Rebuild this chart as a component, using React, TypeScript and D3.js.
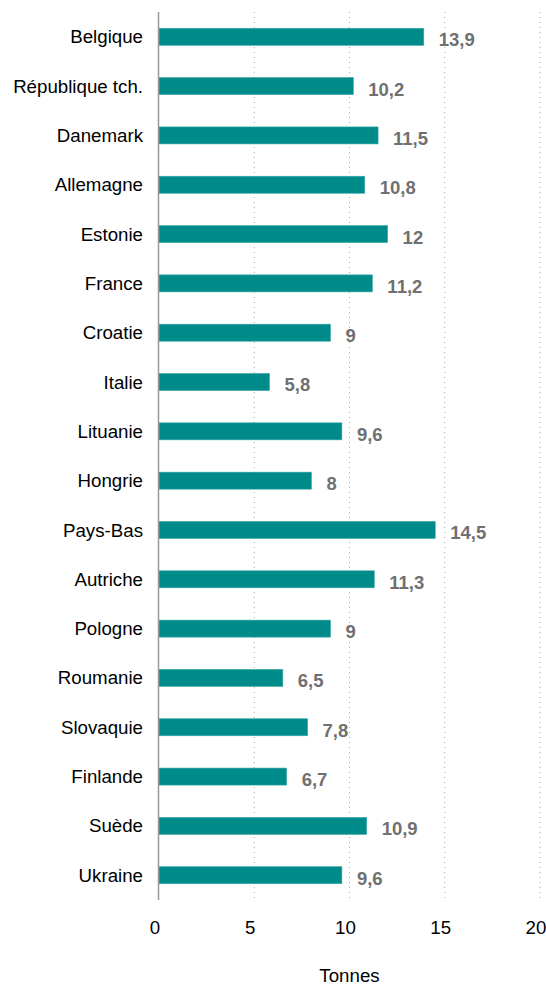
import React from "react";
import * as d3 from "d3";

const categories = [
  "Belgique", "République tch.", "Danemark", "Allemagne", "Estonie", "France",
  "Croatie", "Italie", "Lituanie", "Hongrie", "Pays-Bas", "Autriche", "Pologne",
  "Roumanie", "Slovaquie", "Finlande", "Suède", "Ukraine",
];
const values = [13.9, 10.2, 11.5, 10.8, 12, 11.2, 9, 5.8, 9.6, 8, 14.5, 11.3, 9, 6.5, 7.8, 6.7, 10.9, 9.6];
const ticks = [0, 5, 10, 15, 20];
const axisTitle = "Tonnes";

const W = 546, H = 985;
const left = 159, right = 540, top = 12, bottom = 900;
const font = "'Liberation Sans', Arial, sans-serif";
const fs = 18.7;

export default function App() {
  const x = d3.scaleLinear().domain([0, 20]).range([left, right]);
  const y = d3.scaleBand<string>().domain(categories).range([top, bottom]).paddingInner(0.655).paddingOuter(0.33);
  const fmt = (v: number) => String(v).replace(".", ",");
  return (
    <svg width={W} height={H} style={{ position: "absolute", left: 0, top: 0 }} fontFamily={font}>
      {ticks.slice(1).map((t) => (
        <line key={t} x1={x(t)} x2={x(t)} y1={top} y2={bottom} stroke="#aaa" strokeWidth={1} strokeDasharray="1,4" />
      ))}
      {categories.map((c, i) => (
        <g key={c}>
          <rect x={x(0)} y={y(c)!} width={x(values[i]) - x(0)} height={y.bandwidth()} fill="#008B8B" stroke="#3aa5a5" strokeWidth={0.6} />
          <text x={left - 16} y={y(c)! + y.bandwidth() / 2} dy="0.35em" textAnchor="end" fontSize={fs} fill="#000">{c}</text>
          <text x={x(values[i]) + 15} y={y(c)! + y.bandwidth() / 2 + 3} dy="0.35em" fontSize={18.5} fontWeight="bold" fill="#707070">{fmt(values[i])}</text>
        </g>
      ))}
      <line x1={x(0) - 0.5} x2={x(0) - 0.5} y1={top} y2={bottom} stroke="#999" strokeWidth={1.5} />
      {ticks.map((t) => (
        <text key={t} x={x(t) - 4} y={927} dy="0.35em" textAnchor="middle" fontSize={fs} fill="#000">{t}</text>
      ))}
      <text x={x(10)} y={975} dy="0.35em" textAnchor="middle" fontSize={fs} fill="#000">{axisTitle}</text>
    </svg>
  );
}
